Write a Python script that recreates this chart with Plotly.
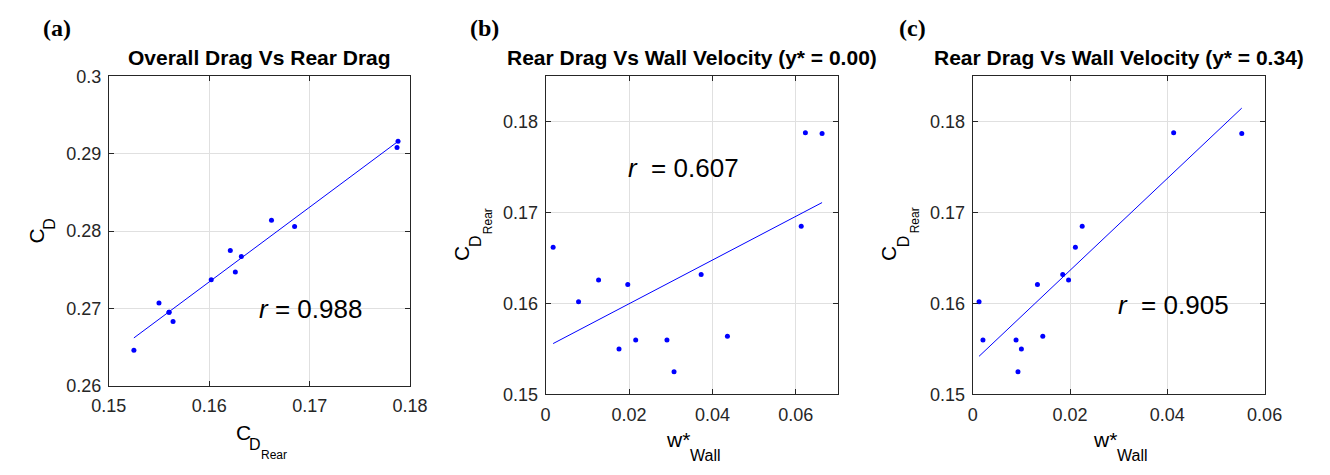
import numpy as np
import plotly.graph_objects as go

# ---------------- data ----------------
cd_rear = [0.1525, 0.1550, 0.1560, 0.1560, 0.1564, 0.1602, 0.1621, 0.1626,
           0.1632, 0.1662, 0.1685, 0.1788, 0.1787]
cd_overall = [0.2646, 0.2707, 0.2695, 0.2695, 0.2683, 0.2737, 0.2775, 0.2747,
              0.2767, 0.2814, 0.2806, 0.2916, 0.2908]
w_wall_y000 = [0.0308, 0.0176, 0.0216, 0.0291, 0.0436, 0.0079, 0.0197, 0.0127,
               0.0373, 0.0018, 0.0613, 0.0623, 0.0663]
w_wall_y034 = [0.0093, 0.0100, 0.0089, 0.0021, 0.0144, 0.0013, 0.0133, 0.0197,
               0.0185, 0.0211, 0.0225, 0.0413, 0.0553]

r_labels = ["0.988", "0.607", "0.905"]
titles = ["Overall Drag Vs Rear Drag",
          "Rear Drag Vs Wall Velocity (y* = 0.00)",
          "Rear Drag Vs Wall Velocity (y* = 0.34)"]
panel_labels = ["(a)", "(b)", "(c)"]

xticks_a = [0.15, 0.16, 0.17, 0.18]
xticks_a_text = ["0.15", "0.16", "0.17", "0.18"]
yticks_a = [0.26, 0.27, 0.28, 0.29, 0.30]
yticks_a_text = ["0.26", "0.27", "0.28", "0.29", "0.3"]
xticks_b = [0, 0.02, 0.04, 0.06]
xticks_b_text = ["0", "0.02", "0.04", "0.06"]
xticks_c = [0, 0.02, 0.04, 0.06]
xticks_c_text = ["0", "0.02", "0.04", "0.06"]
yticks_bc = [0.15, 0.16, 0.17, 0.18]
yticks_bc_text = ["0.15", "0.16", "0.17", "0.18"]

# ---------------- layout helpers ----------------
W, H = 1330, 475
def fx(px):
    return px / W
def fy(py):
    return 1 - py / H

BLUE = "#0000ff"
FONT = "Liberation Sans, Arial, sans-serif"
GRID = "#e0e0e0"
AX = "#262626"

fig = go.Figure()

panels = [
    dict(x=cd_rear, y=cd_overall, xr=[0.15, 0.18], yr=[0.26, 0.30],
         xt=xticks_a, xtt=xticks_a_text, yt=yticks_a, ytt=yticks_a_text,
         dom=(93.3, 403.0, 69.3, 392.3)),
    dict(x=w_wall_y000, y=cd_rear, xr=[0, 0.07], yr=[0.15, 0.185],
         xt=xticks_b, xtt=xticks_b_text, yt=yticks_bc, ytt=yticks_bc_text,
         dom=(542.3, 842.3, 69.3, 401.3)),
    dict(x=w_wall_y034, y=cd_rear, xr=[0, 0.06], yr=[0.15, 0.185],
         xt=xticks_c, xtt=xticks_c_text, yt=yticks_bc, ytt=yticks_bc_text,
         dom=(981.3, 1281.3, 69.3, 401.3)),
]

annotations = []
def txt(text, px, py, size, angle=0, family=FONT, xanchor="center"):
    annotations.append(dict(text=text, x=fx(px), y=fy(py), xref="paper",
                            yref="paper", xanchor=xanchor, yanchor="middle",
                            showarrow=False, textangle=angle,
                            font=dict(family=family, size=size, color="black")))

for i, p in enumerate(panels):
    sfx = "" if i == 0 else str(i + 1)
    xa, ya = "x" + sfx, "y" + sfx
    x = np.array(p["x"]); y = np.array(p["y"])
    k, b = np.polyfit(x, y, 1)
    xl = np.array([x.min(), x.max()])
    fig.add_trace(go.Scatter(x=xl, y=k * xl + b, mode="lines",
                             line=dict(color=BLUE, width=1), xaxis=xa, yaxis=ya,
                             showlegend=False, hoverinfo="skip"))
    fig.add_trace(go.Scatter(x=x, y=y, mode="markers",
                             marker=dict(color=BLUE, size=5), xaxis=xa, yaxis=ya,
                             showlegend=False))
    x0, x1, y0, y1 = p["dom"]
    common = dict(showline=True, linecolor=AX, linewidth=1, mirror="ticks",
                  ticks="inside", ticklen=5, tickcolor=AX, tickwidth=1,
                  showgrid=True, gridcolor=GRID, gridwidth=1, zeroline=False,
                  tickfont=dict(family=FONT, size=18, color="#262626"))
    fig.layout["xaxis" + sfx] = dict(domain=[fx(x0), fx(x1)], range=p["xr"],
                                     tickvals=p["xt"], ticktext=p["xtt"],
                                     anchor=ya, ticklabelstandoff=4, **common)
    fig.layout["yaxis" + sfx] = dict(domain=[fy(y1), fy(y0)], range=p["yr"],
                                     tickvals=p["yt"], ticktext=p["ytt"],
                                     anchor=xa, ticklabelstandoff=3, **common)
    cx = (x0 + x1) / 2
    txt("<b>" + titles[i] + "</b>", cx, 50, 21)

# panel letters
for lab, px in zip(panel_labels, [40, 479, 919]):
    txt("<b>" + lab + "</b>", px, 19, 24,
        family="Liberation Serif, Times New Roman, serif")

# r annotations (pixel centres)
r_pos = [(301, 312, "<i>r</i> = "), (684, 165, "<i>r</i>&nbsp; = "),
         (1188, 308, "<i>r</i>&nbsp; = ")]
for (px, py, pre), rv in zip(r_pos, r_labels):
    txt(pre + rv, px, py, 26)

# x-axis titles built from pieces
# panel (a): C_D_Rear
txt("C", 222, 441, 21, xanchor="left")
txt("D", 235.5, 454, 16, xanchor="left")
txt("Rear", 247.5, 465, 12, xanchor="left")
# panels (b), (c): w*_Wall
for dx in (0, 439):
    txt("w*", 664 + dx, 448, 21, xanchor="left")
    txt("Wall", 689 + dx, 465, 16, xanchor="left")

# y-axis titles (rotated)
txt("C", 19, 236, 21, angle=-90)
txt("D", 33, 223, 16, angle=-90)
for dx in (0, 439):
    txt("C", 456 + dx, 254, 21, angle=-90)
    txt("D", 471 + dx, 241, 16, angle=-90)
    txt("Rear", 482.5 + dx, 220, 12, angle=-90)

fig.update_layout(width=W, height=H, margin=dict(l=0, r=0, t=0, b=0),
                  paper_bgcolor="white", plot_bgcolor="white",
                  annotations=annotations, showlegend=False)

fig.write_html("out.html")
